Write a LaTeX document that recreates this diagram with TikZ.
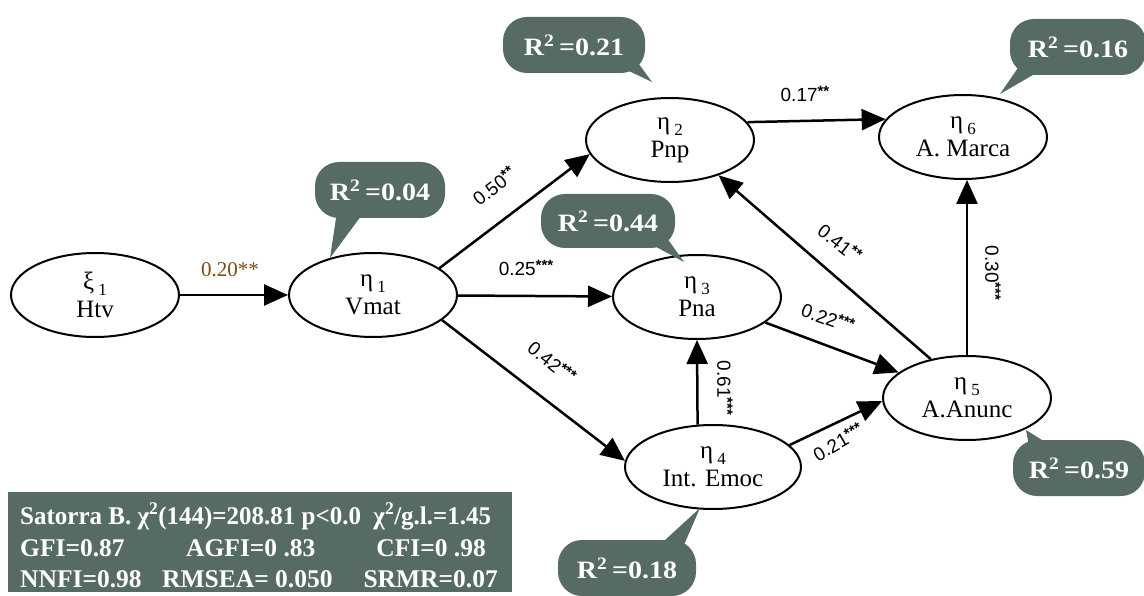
\documentclass[tikz,border=0pt]{standalone}
\usepackage{fontspec}
\setmainfont{Liberation Serif}
\newfontfamily\lsans{Liberation Sans}
\usetikzlibrary{shapes.geometric,arrows.meta}
\definecolor{bub}{HTML}{566B63}
\definecolor{brn}{HTML}{7A4B12}
\newcommand{\sub}[1]{\,\raisebox{-6pt}{\fontsize{17}{17}\selectfont #1}}
\newcommand{\stars}[1]{\raisebox{5pt}{\fontsize{15}{15}\selectfont\bfseries #1}}
\newcommand{\rsq}[1]{\scalebox{1.12}[1]{R\textsuperscript{2}\,=#1}}
\begin{document}
\begin{tikzpicture}[x=1pt,y=-1pt,
  lat/.style={ellipse, draw, line width=2pt, minimum width=168pt, minimum height=84pt, inner sep=0pt, align=center, font=\fontsize{25}{28}\selectfont},
  arr/.style={line width=2.5pt, -{Triangle[length=24pt,width=21pt]}},
  bubble/.style={fill=bub, text=white, rounded corners=24pt, inner sep=0pt, font=\bfseries\fontsize{25}{28}\selectfont},
  elab/.style={font=\lsans\fontsize{19}{21}\selectfont, inner sep=1pt},
  stat/.style={text=white, font=\bfseries\fontsize{25.5}{30}\selectfont, anchor=base west, inner sep=0pt}
]
\useasboundingbox (0,0) rectangle (1144,596);

% latent variables
\node[lat] (xi1) at (95,295) {ξ\sub{1}\\Htv};
\node[lat] (eta1) at (373,295) {η\sub{1}\\Vmat};
\node[lat] (eta2) at (670,140) {η\sub{2}\\Pnp};
\node[lat] (eta6) at (963,137) {η\sub{6}\\A. Marca};
\node[lat] (eta3) at (697,297) {η\sub{3}\\Pna};
\node[lat] (eta5) at (967,398) {η\sub{5}\\A.Anunc};
\node[lat, minimum width=176pt] (eta4) at (713,467) {η\sub{4}\\Int. Emoc};

% paths
\draw[arr] (xi1) -- (eta1);
\draw[arr] (eta1.22) -- (eta2.190);
\draw[arr] (eta1) -- (eta3);
\draw[arr] (eta1.-20) -- (eta4.176);
\draw[arr] (eta2.13) -- (eta6.167);
\draw[arr] (eta3) -- (eta5);
\draw[arr] (eta4.110) -- (eta3.270);
\draw[arr] (eta4.16) -- (eta5.182);
\draw[arr] (eta5.133) -- (eta2.-36);
\draw[arr] (eta5.north) -- (eta5.north |- eta6.south);

% path labels
\node[font=\fontsize{21}{23}\selectfont, text=brn] (l1) at (230,270) {0.20**};
\node[elab, rotate=38] (l2) at (494,186) {0.50\stars{**}};
\node[elab] (l3) at (526,268) {0.25\stars{***}};
\node[elab, rotate=-39] (l4) at (552,362) {0.42\stars{***}};
\node[elab, rotate=-20] (l5) at (828,318) {0.22\stars{***}};
\node[elab, rotate=-38] (l6) at (840,243) {0.41\stars{**}};
\node[elab, rotate=-90] (l7) at (993,273) {0.30\stars{***}};
\node[elab, rotate=-90] (l8) at (725,388) {0.61\stars{***}};
\node[elab, rotate=30] (l9) at (838,442) {0.21\stars{***}};
\node[elab] (l10) at (805,94) {0.17\stars{**}};

% R2 callouts
\fill[bub] (610,62) -- (636,60) -- (652,82) -- cycle;
\node[bubble, minimum width=142pt, minimum height=56pt] (b21) at (574,45) {\rsq{0.21}};
\fill[bub] (1022,62) -- (1045,68) -- (1000,94) -- cycle;
\node[bubble, minimum width=136pt, minimum height=56pt] (b16) at (1078,47) {\rsq{0.16}};
\fill[bub] (338,205) -- (364,212) -- (330,258) -- cycle;
\node[bubble, minimum width=130pt, minimum height=56pt] (b04) at (380,190) {\rsq{0.04}};
\fill[bub] (636,236) -- (664,234) -- (684,262) -- cycle;
\node[bubble, minimum width=134pt, minimum height=54pt] (b44) at (608,221) {\rsq{0.44}};
\fill[bub] (1032,462) -- (1058,450) -- (1026,430) -- cycle;
\node[bubble, minimum width=132pt, minimum height=56pt] (b59) at (1079,468) {\rsq{0.59}};
\fill[bub] (652,552) -- (680,554) -- (700,508) -- cycle;
\node[bubble, minimum width=138pt, minimum height=56pt] (b18) at (627,568) {\rsq{0.18}};

% fit statistics
\node[fill=bub, minimum width=504pt, minimum height=100pt, inner sep=0pt, anchor=north west] (stats) at (8,492) {};
\node[stat] (s1) at (20,524) {\scalebox{0.98}[1]{Satorra B. χ\textsuperscript{2}(144)=208.81 p<0.0\ \ χ\textsuperscript{2}/g.l.=1.45}};
\node[stat] (s2a) at (20,556) {GFI=0.87};
\node[stat] (s2b) at (186,556) {AGFI=0 .83};
\node[stat, anchor=base east] (s2c) at (486,556) {CFI=0 .98};
\node[stat] (s3a) at (20,587) {NNFI=0.98};
\node[stat] (s3b) at (162,587) {RMSEA= 0.050};
\node[stat, anchor=base east] (s3c) at (498,587) {SRMR=0.07};
\end{tikzpicture}
\end{document}
